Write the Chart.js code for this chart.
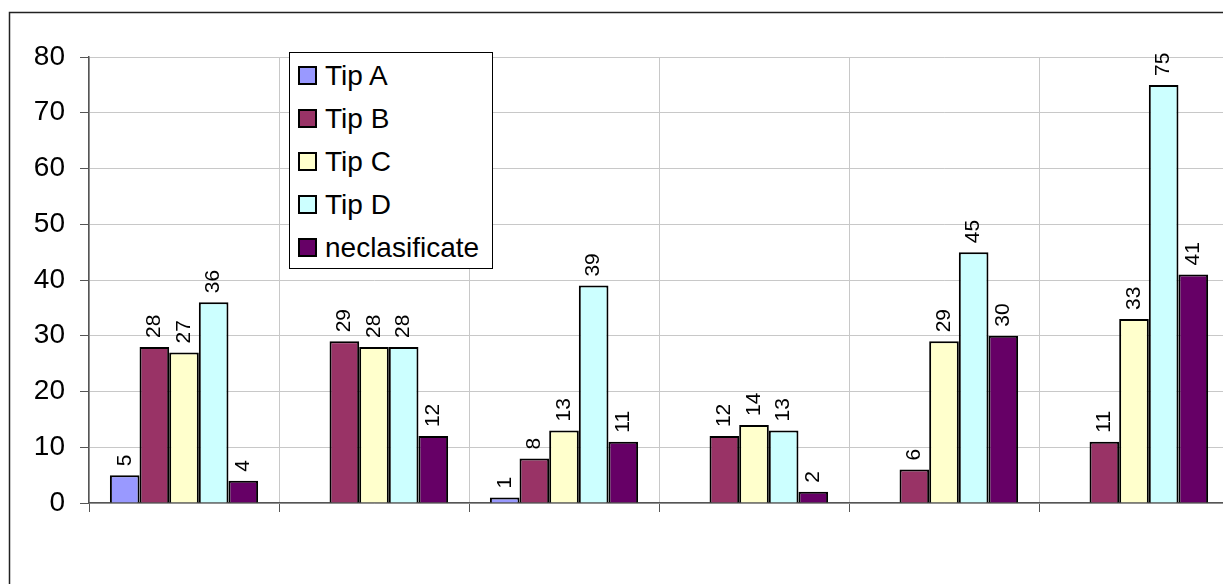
<!DOCTYPE html>
<html>
<head>
<meta charset="utf-8">
<script src="https://cdn.jsdelivr.net/npm/chart.js@4"></script>
<style>
  html, body { margin: 0; padding: 0; background: #fff; overflow: hidden; }
  #wrap { position: relative; width: 1240px; height: 584px; }
  #chart { position: absolute; left: 0; top: 0; }
  #legend {
    position: absolute; left: 289px; top: 52px; width: 202px; height: 214px;
    border: 1px solid #000; background: #fff;
    font-family: Arial, "Liberation Sans", sans-serif; font-size: 28px; color: #000;
    padding-top: 1px;
  }
  .item { height: 43px; display: flex; align-items: center; }
  .sw { width: 19px; height: 19px; box-sizing: border-box; border: 2px solid #000; margin-left: 8px; margin-right: 8px; }
</style>
</head>
<body>
<div id="wrap">
  <canvas id="chart" width="1240" height="584"></canvas>
  <div id="legend"></div>
</div>
<script>
// Categories carry no visible labels on the axis
const categories = ['', '', '', '', '', ''];

const seriesNames = ['Tip A', 'Tip B', 'Tip C', 'Tip D', 'neclasificate'];
const tipA = [5, null, 1, null, null, null];
const tipB = [28, 29, 8, 12, 6, 11];
const tipC = [27, 28, 13, 14, 29, 33];
const tipD = [36, 28, 39, 13, 45, 75];
const neclasificate = [4, 12, 11, 2, 30, 41];
const yTicks = [0, 10, 20, 30, 40, 50, 60, 70, 80];

const seriesColors = ['#9999FF', '#993366', '#FFFFCC', '#CCFFFF', '#660066'];
const seriesValues = [tipA, tipB, tipC, tipD, neclasificate];

const FONT = 'Arial, "Liberation Sans", sans-serif';

// Rotated value labels above each bar
const valueLabels = {
  id: 'valueLabels',
  afterDatasetsDraw(chart) {
    const ctx = chart.ctx;
    ctx.save();
    ctx.fillStyle = '#000';
    ctx.font = '21px ' + FONT;
    ctx.textAlign = 'left';
    ctx.textBaseline = 'middle';
    chart.data.datasets.forEach((ds, i) => {
      const meta = chart.getDatasetMeta(i);
      meta.data.forEach((bar, j) => {
        const v = ds.data[j];
        if (v === null || v === undefined) return;
        ctx.save();
        ctx.translate(bar.x, bar.y - 9);
        ctx.rotate(-Math.PI / 2);
        ctx.fillText(String(v), 0, 0);
        ctx.restore();
      });
    });
    ctx.restore();
  }
};

// Frame around the whole chart
const outerFrame = {
  id: 'outerFrame',
  afterDraw(chart) {
    const ctx = chart.ctx;
    ctx.save();
    ctx.strokeStyle = '#222';
    ctx.lineWidth = 1.5;
    ctx.strokeRect(9.5, 12.5, 1400, 800);
    ctx.restore();
  }
};

const chart = new Chart(document.getElementById('chart'), {
  type: 'bar',
  data: {
    labels: categories,
    datasets: seriesNames.map((name, i) => ({
      label: name,
      data: seriesValues[i],
      backgroundColor: seriesColors[i],
      borderColor: '#000',
      borderWidth: 2,
      categoryPercentage: 0.78,
      barPercentage: 1.0
    }))
  },
  options: {
    responsive: false,
    animation: false,
    devicePixelRatio: 1,
    layout: { padding: { top: 57, left: 0, right: 11, bottom: 0 } },
    plugins: {
      legend: { display: false },
      tooltip: { enabled: false }
    },
    scales: {
      x: {
        grid: {
          offset: true,
          color: '#c8c8c8',
          tickColor: '#555',
          tickLength: 9,
          lineWidth: 1
        },
        border: { color: '#555', width: 1.5 },
        ticks: { display: true, font: { size: 1 } },
        afterFit(scale) { scale.height = 584 - 503; }
      },
      y: {
        min: 0,
        max: 80,
        afterBuildTicks(scale) { scale.ticks = yTicks.map(v => ({ value: v })); },
        grid: {
          color: '#c8c8c8',
          tickColor: '#555',
          tickLength: 9,
          lineWidth: 1
        },
        border: { color: '#555', width: 1.5 },
        ticks: {
          color: '#000',
          padding: 15,
          font: { family: FONT, size: 28 }
        },
        afterFit(scale) { scale.width = 89; }
      }
    }
  },
  plugins: [valueLabels, outerFrame]
});

// Legend box built from the datasets
const legend = document.getElementById('legend');
seriesNames.forEach((name, i) => {
  const row = document.createElement('div');
  row.className = 'item';
  const sw = document.createElement('span');
  sw.className = 'sw';
  sw.style.background = seriesColors[i];
  const txt = document.createElement('span');
  txt.textContent = name;
  row.appendChild(sw);
  row.appendChild(txt);
  legend.appendChild(row);
});
</script>
</body>
</html>
